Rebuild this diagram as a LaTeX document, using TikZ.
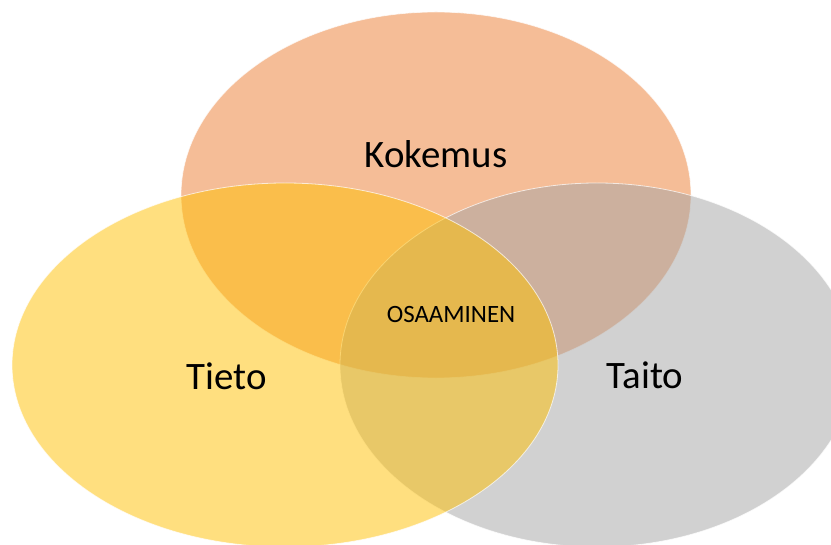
\documentclass[tikz,border=0pt]{standalone}
\usepackage{fontspec}
\setmainfont{Carlito}
\usetikzlibrary{shapes.geometric}
\definecolor{kokemusfill}{HTML}{ED7D31}
\definecolor{taitofill}{HTML}{A5A5A5}
\definecolor{tietofill}{HTML}{FFC000}
\tikzset{
  circleset/.style={ellipse, inner sep=0pt, fill opacity=0.5, draw=white, draw opacity=0.7, line width=0.8bp},
  biglabel/.style={anchor=base, text=black, font=\fontsize{39}{44}\selectfont},
  smalllabel/.style={anchor=base, text=black, font=\fontsize{25}{30}\selectfont}
}
\begin{document}
\begin{tikzpicture}[x=1bp,y=-1bp]
  \useasboundingbox (0,0) rectangle (831,545);
  \fill[white] (0,0) rectangle (831,545);
  % the three sets, layered Kokemus, Taito, Tieto
  \node[circleset, fill=kokemusfill, minimum width=510bp, minimum height=366bp] (kokemus) at (436,195) {};
  \node[circleset, fill=taitofill, minimum width=514bp, minimum height=364bp] (taito) at (597,365) {};
  \node[circleset, fill=tietofill, minimum width=546bp, minimum height=364bp] (tieto) at (285,365) {};
  % labels
  \node[biglabel] (lkokemus) at (436,168) {Kokemus};
  \node[biglabel] (ltieto) at (227,389) {Tieto};
  \node[biglabel] (ltaito) at (645,388) {Taito};
  \node[smalllabel] (losaaminen) at (451,323) {OSAAMINEN};
\end{tikzpicture}
\end{document}
